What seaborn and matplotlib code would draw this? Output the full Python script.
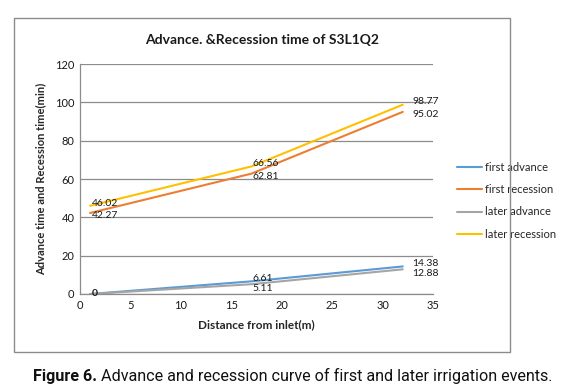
import matplotlib
matplotlib.use("Agg")
import matplotlib.pyplot as plt
import seaborn as sns
import pandas as pd
from matplotlib.patches import Rectangle

# --- data ---
distance = [1, 17, 32]
first_advance = [0, 6.61, 14.38]
first_recession = [42.27, 62.81, 95.02]
later_advance = [0, 5.11, 12.88]
later_recession = [46.02, 66.56, 98.77]

series_names = ["first advance", "first recession", "later advance", "later recession"]
series_values = [first_advance, first_recession, later_advance, later_recession]
colors = ["#5B9BD5", "#ED7D31", "#A5A5A5", "#FFC000"]
# small vertical nudge of the data labels so the close pairs stay readable
label_nudge = [2, -2, -3, 2]

rows = []
for name, vals in zip(series_names, series_values):
    for d, v in zip(distance, vals):
        rows.append({"distance": d, "time": v, "series": name})
df = pd.DataFrame(rows)

sns.set_theme(style="white")
plt.rcParams["font.family"] = ["Lato", "DejaVu Sans"]

fig = plt.figure(figsize=(5.85, 3.92), dpi=100)
ax = fig.add_axes([0.1368, 0.25, 0.6034, 0.5867])

sns.lineplot(data=df, x="distance", y="time", hue="series", hue_order=series_names,
             palette=colors, linewidth=1.5, ax=ax, legend=True)

# data labels, to the right of each point; the two zero labels share one spot
for name, vals, dy in zip(series_names, series_values, label_nudge):
    for i, (d, v) in enumerate(zip(distance, vals)):
        dx = 7 if i == len(distance) - 1 else 1
        if v == 0:
            if name != series_names[0]:
                continue
            txt, dy0 = "0", 0
        else:
            txt, dy0 = f"{v:.2f}", dy
        ax.annotate(txt, (d, v), xytext=(dx, dy0), textcoords="offset points",
                    ha="left", va="center", fontsize=7.5, color="#1a1a1a",
                    fontweight="bold" if v == 0 else "normal")

ax.set_xlim(0, 35)
ax.set_ylim(0, 120)
ax.set_xticks(range(0, 36, 5))
ax.set_yticks(range(0, 121, 20))
ax.yaxis.grid(True, color="#8c8c8c", linewidth=0.9)
ax.xaxis.grid(False)
for side in ["top", "right"]:
    ax.spines[side].set_visible(False)
for side in ["left", "bottom"]:
    ax.spines[side].set_color("#8c8c8c")
    ax.spines[side].set_linewidth(0.9)
ax.tick_params(axis="both", labelsize=8, colors="#1a1a1a", length=0, pad=4)

ax.set_xlabel("Distance from inlet(m)", fontsize=8.5, fontweight="bold", labelpad=6)
ax.set_ylabel("Advance time and Recession time(min)", fontsize=8, fontweight="bold", labelpad=6)

ax.legend(loc="center left", bbox_to_anchor=(1.04, 0.405), frameon=False,
          fontsize=8, handlelength=2.2, handletextpad=0.3, labelspacing=1.0)

fig.text(0.448, 0.897, "Advance. &Recession time of S3L1Q2", ha="center", va="center",
         fontsize=10, fontweight="bold", color="#1a1a1a")

# outer chart frame
fig.patches.append(Rectangle((0.024, 0.102), 0.848, 0.852, transform=fig.transFigure,
                             fill=False, edgecolor="#8c8c8c", linewidth=1.0))

# caption
cap_font = ["Roboto", "DejaVu Sans"]
fig.text(0.056, 0.04, "Figure 6.", ha="left", va="center", fontsize=11.6,
         fontweight="bold", family=cap_font, color="#111111")
fig.text(0.173, 0.04, "Advance and recession curve of first and later irrigation events.",
         ha="left", va="center", fontsize=11.6, family=cap_font, color="#111111")

fig.savefig("out.png", dpi=100)
